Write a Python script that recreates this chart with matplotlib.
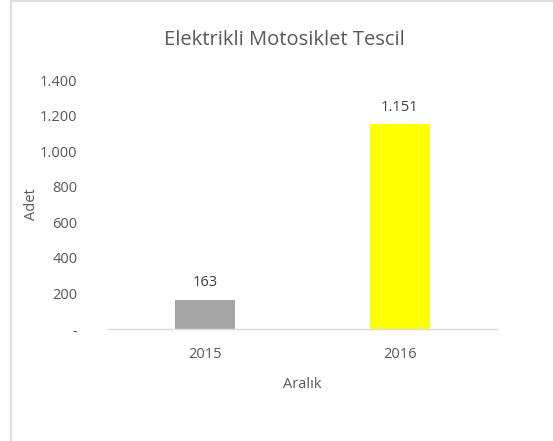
import matplotlib
matplotlib.use("Agg")
import matplotlib.pyplot as plt
from matplotlib.lines import Line2D

categories = ["2015", "2016"]
values = [163, 1151]
value_labels = ["163", "1.151"]
bar_colors = ["#A5A5A5", "#FFFF00"]
yticks = [0, 200, 400, 600, 800, 1000, 1200, 1400]
ytick_labels = ["-", "200", "400", "600", "800", "1.000", "1.200", "1.400"]

plt.rcParams['font.family'] = ['Open Sans', 'DejaVu Sans']
text_color = "#595959"

fig = plt.figure(figsize=(5.53, 4.41), dpi=100)
ax = fig.add_axes([108/553, 112/441, 389/553, 249/441])

x = list(range(len(categories)))
bars = ax.bar(x, values, width=0.31, color=bar_colors, zorder=2)
for xi, v, lab in zip(x, values, value_labels):
    ax.annotate(lab, (xi, v), xytext=(0, 7), textcoords="offset points",
                ha="center", va="bottom", fontsize=10.5, color="#404040")

ax.set_xlim(-0.5, 1.5)
ax.set_ylim(0, 1400)
ax.set_xticks(x)
ax.set_xticklabels(categories, fontsize=10.5, color=text_color)
ax.set_yticks(yticks)
ax.set_yticklabels(ytick_labels, fontsize=10.5, color=text_color)
ax.tick_params(length=0, pad=22, axis='y')
ax.tick_params(length=0, pad=13, axis='x')
for s in ["top", "right", "left"]:
    ax.spines[s].set_visible(False)
ax.spines["bottom"].set_color("#D9D9D9")
ax.spines["bottom"].set_linewidth(1.0)

ax.set_ylabel("Adet", fontsize=10.5, color=text_color, labelpad=1)
ax.set_xlabel("Aralık", fontsize=10.5, color=text_color, labelpad=11)
fig.text(0.515, 1 - 40/441, "Elektrikli Motosiklet Tescil", ha="center", va="center",
         fontsize=14.5, color=text_color)

# chart border (left and top edges visible)
fig.add_artist(Line2D([10.5/553, 10.5/553], [0, 1 - 1/441], transform=fig.transFigure, color="#D9D9D9", lw=1.2))
fig.add_artist(Line2D([10.5/553, 1], [1 - 1/441, 1 - 1/441], transform=fig.transFigure, color="#D9D9D9", lw=1.2))

fig.savefig("out.png", dpi=100)
